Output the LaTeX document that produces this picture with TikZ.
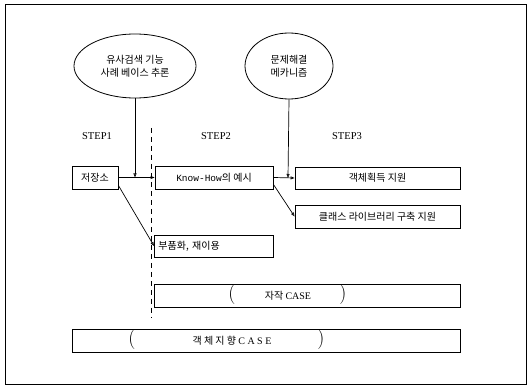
\documentclass[tikz,border=0pt]{standalone}
\usepackage{fontspec}
\newfontfamily\kr{Noto Sans CJK KR}
\newfontfamily\stepfont{Liberation Serif}
\newfontfamily\mono{Liberation Mono}
\usetikzlibrary{shapes.geometric,arrows.meta}
\tikzset{
  ov/.style={draw, ellipse, line width=0.8pt, inner sep=0pt, font=\kr\fontsize{10}{13}\selectfont, align=center},
  bx/.style={draw, rectangle, line width=0.8pt, inner sep=0pt, font=\kr\fontsize{10}{12}\selectfont},
  lbl/.style={font=\kr\fontsize{10}{12}\selectfont, inner sep=0pt},
  paren/.style={font=\fontsize{20}{20}\selectfont, inner sep=0pt},
  steplbl/.style={font=\stepfont\fontsize{10.5}{12}\selectfont, inner sep=0pt},
  conn/.style={line width=0.7pt},
  arr/.style={conn, -{Triangle[open, length=4pt, width=3pt]}}
}
\begin{document}
\begin{tikzpicture}[x=1pt, y=-1pt]
\useasboundingbox (0,0) rectangle (528,387);
\draw[line width=0.8pt] (5,4) rectangle (526,384);

\node[ov, minimum width=122pt, minimum height=64pt] (e1) at (135,66) {유사검색 기능\\사례 베이스 추론};
\node[ov, minimum width=88pt, minimum height=66pt] (e2) at (289,66) {문제해결\\메카니즘};

\node[steplbl] (st1) at (97,136) {STEP1};
\node[steplbl] (st2) at (216,136) {STEP2};
\node[steplbl] (st3) at (347,136) {STEP3};

\node[bx, minimum width=46pt, minimum height=23pt] (s1) at (95,177.5) {저장소};
\node[bx, minimum width=118pt, minimum height=23pt] (kh) at (214,177.5) {{\mono\fontsize{9.5}{12}\selectfont Know-How}의 예시};
\node[bx, minimum width=165pt, minimum height=22pt] (ob) at (377.5,178) {객체획득 지원};
\node[bx, minimum width=165pt, minimum height=23pt] (cl) at (377.5,216.5) {클래스 라이브러리 구축 지원};
\node[bx, minimum width=119pt, minimum height=22pt, anchor=west, inner xsep=4pt, align=left, text width=111pt] (pu) at (154,246) {부품화, 재이용};

\node[bx, minimum width=306pt, minimum height=23pt] (jc) at (307,295.5) {};
\node[paren] (jp1) at (232,295) {(};
\node[paren] (jp2) at (343,295) {)};
\node[lbl] (jt) at (288,295.5) {자작 {\stepfont CASE}};

\node[bx, minimum width=388pt, minimum height=23pt] (oc) at (266,340.5) {};
\node[paren] (op1) at (132,340) {(};
\node[paren] (op2) at (321,340) {)};
\node[lbl] (ot) at (232,340.5) {객\ 체\ 지\ 향\ {\stepfont C\ A\ S\ E}};

\coordinate (j1) at (135,177.5);
\coordinate (j2) at (288,178);
\coordinate (d1) at (151,128);
\coordinate (d2) at (151,318);
\draw[conn, dash pattern=on 5pt off 4pt] (d1) -- (d2);

\draw[arr] (e1.south) -- (j1);
\draw[arr] (e2.south) -- (j2);
\draw[arr] (s1.east) -- (kh.west);
\draw[arr] (kh.east) -- (ob.west);
\draw[arr] (s1.south east) ++(0,-4) -- (pu.west);
\draw[arr] ([yshift=5pt]kh.south east) -- (cl.west);
\end{tikzpicture}
\end{document}
